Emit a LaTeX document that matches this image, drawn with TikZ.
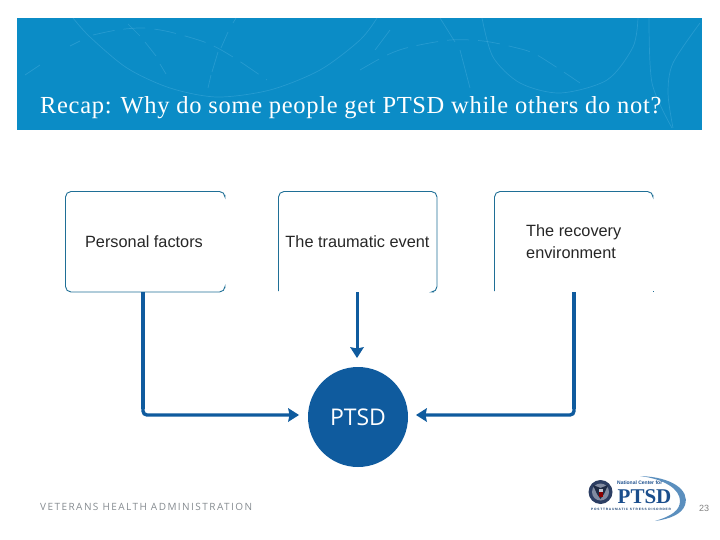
\documentclass[tikz,border=0pt]{standalone}
\usepackage{fontspec}
\usetikzlibrary{calc}
\setmainfont{Liberation Sans}
\newfontfamily\titlefont[LetterSpace=2.75]{Liberation Serif}
\newfontfamily\logofont{Liberation Serif}
\newfontfamily\ptsdfont{Open Sans}
\newfontfamily\footfont[LetterSpace=14.5]{Open Sans}
\newfontfamily\subfont[LetterSpace=25]{Liberation Sans}
\definecolor{banner}{HTML}{0B8CC6}
\definecolor{streak}{HTML}{4FB2E0}
\definecolor{boxline}{HTML}{1F6F96}
\definecolor{flow}{HTML}{0F5B9E}
\definecolor{sealc}{HTML}{2C3E63}
\definecolor{logoblue}{HTML}{1B4E8C}
\definecolor{swoosh}{HTML}{5B8FBE}
\definecolor{footer}{HTML}{858B90}
\tikzset{
  x=1pt,y=-1pt,
  boxedge/.style={draw=boxline,line width=0.9pt,rounded corners=5.5pt},
  lbl/.style={font=\fontsize{16.3}{22}\selectfont,text=black!85,align=left,inner sep=0pt},
  flowline/.style={draw=flow,line width=3.4pt,rounded corners=4pt},
  head/.style={fill=flow,draw=none},
  deco/.style={draw=streak,line width=0.7pt,opacity=.4},
}
\begin{document}
\begin{tikzpicture}
\useasboundingbox (0,0) rectangle (720,540);
% banner
\fill[banner] (17,18) rectangle (702,130);
\begin{scope}
\clip (17,18) rectangle (702,130);
\draw[deco] plot[smooth] coordinates {(73,18) (90,37) (127,68) (170,88) (217,97) (270,90) (320,70) (360,40) (377,18)};
\draw[deco] plot[smooth] coordinates {(482,18) (493,57) (520,83) (560,93) (607,80) (633,47) (638,18)};
\draw[deco] plot[smooth] coordinates {(649,18) (652,83) (672,128)};
\draw[deco] plot[smooth] coordinates {(700,23) (673,63) (668,93) (673,128)};
\draw[deco,dash pattern=on 22pt off 9pt] plot[smooth] coordinates {(93,35) (117,30) (143,28) (170,32) (207,43) (233,57) (267,80)};
\draw[deco,dash pattern=on 22pt off 9pt] plot[smooth] coordinates {(360,70) (387,55) (410,47) (450,40) (483,41) (513,47) (537,55) (580,83)};
\draw[deco] (228,32) -- (221,48);
\draw[deco] (218,52) -- (212,72);
\draw[deco] (211,75) -- (208,88);
\draw[deco] (80,41) -- (70,46);
\draw[deco] (128,24) -- (140,36);
\draw[deco] (145,42) -- (156,56);
\draw[deco] (160,64) -- (166,74);
\draw[deco] (236,18) -- (233,23);
\draw[deco] (25,75) -- (40,65);
\draw[deco] (440,18) -- (455,42);
\draw[deco] (460,50) -- (470,88);
\draw[deco] (390,30) -- (375,50);
\end{scope}
\node[anchor=base west,inner sep=0pt,text=white,font=\titlefont\fontsize{24.5}{28}\selectfont] (title) at (40,114) {Recap: Why do some people get PTSD while others do not?};
% boxes (their outlines are broken in the picture)
\draw[boxedge] (225,195) -- (225,191.5) -- (65.5,191.5) -- (65.5,292) -- (225,292) -- (225,288);
\draw[boxedge] (278.5,291) -- (278.5,191.5) -- (437,191.5) -- (437,292) -- (434,292);
\draw[boxedge] (494.5,291) -- (494.5,191.5) -- (653,191.5) -- (653,195);
\fill[boxline] (652.5,290.5) rectangle (653.5,291.5);
\node[lbl,anchor=center] (personal) at (144,241.7) {Personal factors};
\node[lbl,anchor=center] (event) at (357.5,241.7) {The traumatic event};
\node[lbl,anchor=west] (recovery) at (526,241.7) {The recovery\\environment};
% hub
\node[circle,fill=flow,minimum size=100pt,inner sep=0pt,text=white,font=\ptsdfont\fontsize{23}{26}\selectfont] (ptsd) at (358,417) {PTSD};
% anchors of the connectors
\coordinate (b1) at (143,292);
\coordinate (b2) at (357,292);
\coordinate (b3) at (574,292);
\coordinate (c1) at (143,415);
\coordinate (c3) at (574,415);
\coordinate (t1) at (299,415);
\coordinate (t2) at (357,358);
\coordinate (t3) at (416,415);
% connectors
\draw[flowline] (b1) -- (c1) -- ($(t1)+(-6,0)$);
\draw[flowline] (b3) -- (c3) -- ($(t3)+(6,0)$);
\draw[draw=flow,line width=4.2pt] (b1) -- ($(c1)+(0,-6)$);
\draw[draw=flow,line width=3.8pt] (b3) -- ($(c3)+(0,-6)$);
\draw[draw=flow,line width=3pt] (b2) -- ($(t2)+(0,-6)$);
\fill[head] (t1) -- ++(-11,-7) -- ++(1.5,7) -- ++(-1.5,7) -- cycle;
\fill[head] (t3) -- ++(11,-7) -- ++(-1.5,7) -- ++(1.5,7) -- cycle;
\fill[head] (t2) -- ++(-7,-11) -- ++(7,1.5) -- ++(7,-1.5) -- cycle;
% footer
\node[anchor=base west,inner sep=0pt,text=footer,font=\footfont\fontsize{10}{12}\selectfont] (vha) at (40,510) {VETERANS HEALTH ADMINISTRATION};
% logo
\fill[swoosh] (640,476) .. controls (672,477) and (690,490) .. (685,505) .. controls (682,514) and (670,519) .. (655,521) .. controls (672,516) and (680,510) .. (680,501) .. controls (680,489) and (664,479) .. (640,476) -- cycle;
\fill[sealc] (600.5,492) circle[radius=12];
\fill[sealc!60!white] (600.5,492) circle[radius=8.5];
\fill[sealc!70!black] (600.5,488) -- (608,485) -- (604,494) -- (600.5,499) -- (597,494) -- (593,485) -- cycle;
\fill[white!70!sealc] (598.5,489) rectangle (602.5,492);
\fill[red!55!black] (598.5,492) rectangle (602.5,497);
\node[anchor=base west,inner sep=0pt,text=logoblue,font=\bfseries\fontsize{5}{6}\selectfont] (ncfor) at (617,484.5) {National Center for};
\node[anchor=base west,inner sep=0pt,text=logoblue,font=\logofont\bfseries\fontsize{21}{24}\selectfont] (logoptsd) at (617.5,503.5) {PTSD};
\node[anchor=base west,inner sep=0pt,text=logoblue!80!black,font=\subfont\bfseries\fontsize{3.2}{4}\selectfont] (logosub) at (591,510) {POSTTRAUMATIC STRESS DISORDER};
\node[anchor=base west,inner sep=0pt,text=black!50,font=\fontsize{9}{10}\selectfont] (page) at (699,511) {23};
\end{tikzpicture}
\end{document}
